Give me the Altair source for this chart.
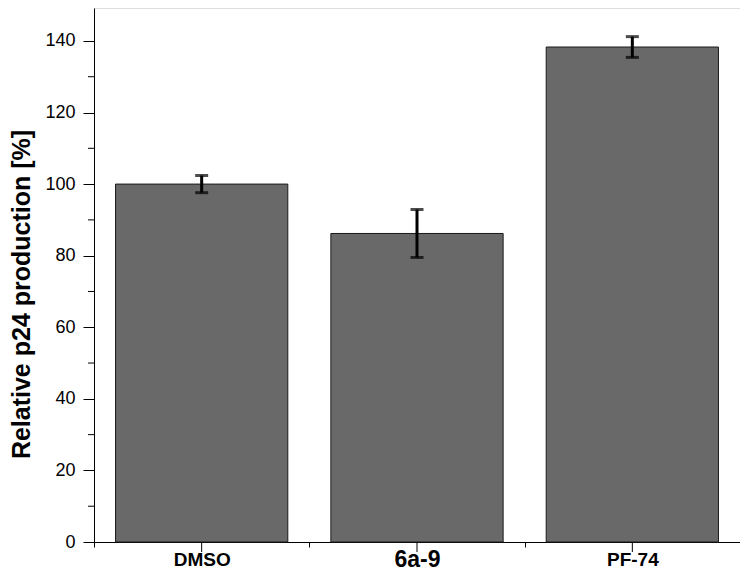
import altair as alt
import pandas as pd

categories = ["DMSO", "6a-9", "PF-74"]
means = [100.0, 86.2, 138.3]
errors = [2.4, 6.7, 2.9]
y_major = [0, 20, 40, 60, 80, 100, 120, 140]
y_minor = [10, 30, 50, 70, 90, 110, 130]

df = pd.DataFrame({"cat": categories, "mean": means, "err": errors})
minor_df = pd.DataFrame({"v": y_minor})

W, H = 647, 534
FONT = "Liberation Sans"

xscale = alt.Scale(domain=categories, paddingInner=0, paddingOuter=0)
xaxis = alt.Axis(title=None, tickBand="extent", tickSize=5, tickColor="black",
                 domainColor="black", labelFont=FONT, labelFontWeight="bold",
                 labelFontSize={"condition": {"test": "datum.value == '6a-9'", "value": 23},
                                "value": 19},
                 labelColor="black", labelPadding=12, labelAngle=0,
                 labelBaseline="middle", grid=False)
yscale = alt.Scale(domain=[0, 149.2], nice=False, zero=True)
yaxis = alt.Axis(title="Relative p24 production [%]", values=y_major, tickSize=11,
                 tickColor="black", domainColor="black", labelFont=FONT,
                 labelFontSize=18, labelColor="black", labelPadding=8,
                 titleFont=FONT, titleFontSize=25, titleFontWeight="bold",
                 titleColor="black", titleX=-65, titleY=286, titleAlign="center",
                 titleBaseline="alphabetic", titleAngle=270, grid=False)

def X(field="cat"):
    return alt.X(f"{field}:N", scale=xscale, axis=xaxis, sort=categories)

def Y(field):
    return alt.Y(f"{field}:Q", scale=yscale, axis=yaxis)

base = alt.Chart(df)

bars = base.mark_bar(width=alt.RelativeBandSize(0.8), color="#696969",
                     stroke="#1a1a1a", strokeWidth=1).encode(x=X(), y=Y("mean"))

err = base.transform_calculate(
    lo="datum.mean - datum.err", hi="datum.mean + datum.err"
)
err_rule = err.mark_rule(color="black", strokeWidth=3).encode(
    x=X(), y=Y("lo"), y2="hi:Q")
err_caps = err.transform_fold(["lo", "hi"], as_=["k", "val"]).mark_tick(
    color="black", size=13, thickness=3, orient="horizontal").encode(
    x=X(), y=Y("val"))

x_major = base.mark_rule(color="black", strokeWidth=1).encode(
    x=X(), y=alt.value(H), y2=alt.value(H + 10))

y_minor_ticks = alt.Chart(minor_df).mark_rule(color="black", strokeWidth=1).encode(
    y=Y("v"), x=alt.value(-6), x2=alt.value(0))

chart = alt.layer(bars, err_rule, err_caps, x_major, y_minor_ticks).properties(
    width=W - 1, height=H,
    autosize=alt.AutoSizeParams(type="none"),
    padding={"left": 86, "top": 0, "right": 0, "bottom": 29},
).configure_view(stroke=None).configure(background="white")

chart.save("out.html", embed_options={"renderer": "svg", "actions": False})
